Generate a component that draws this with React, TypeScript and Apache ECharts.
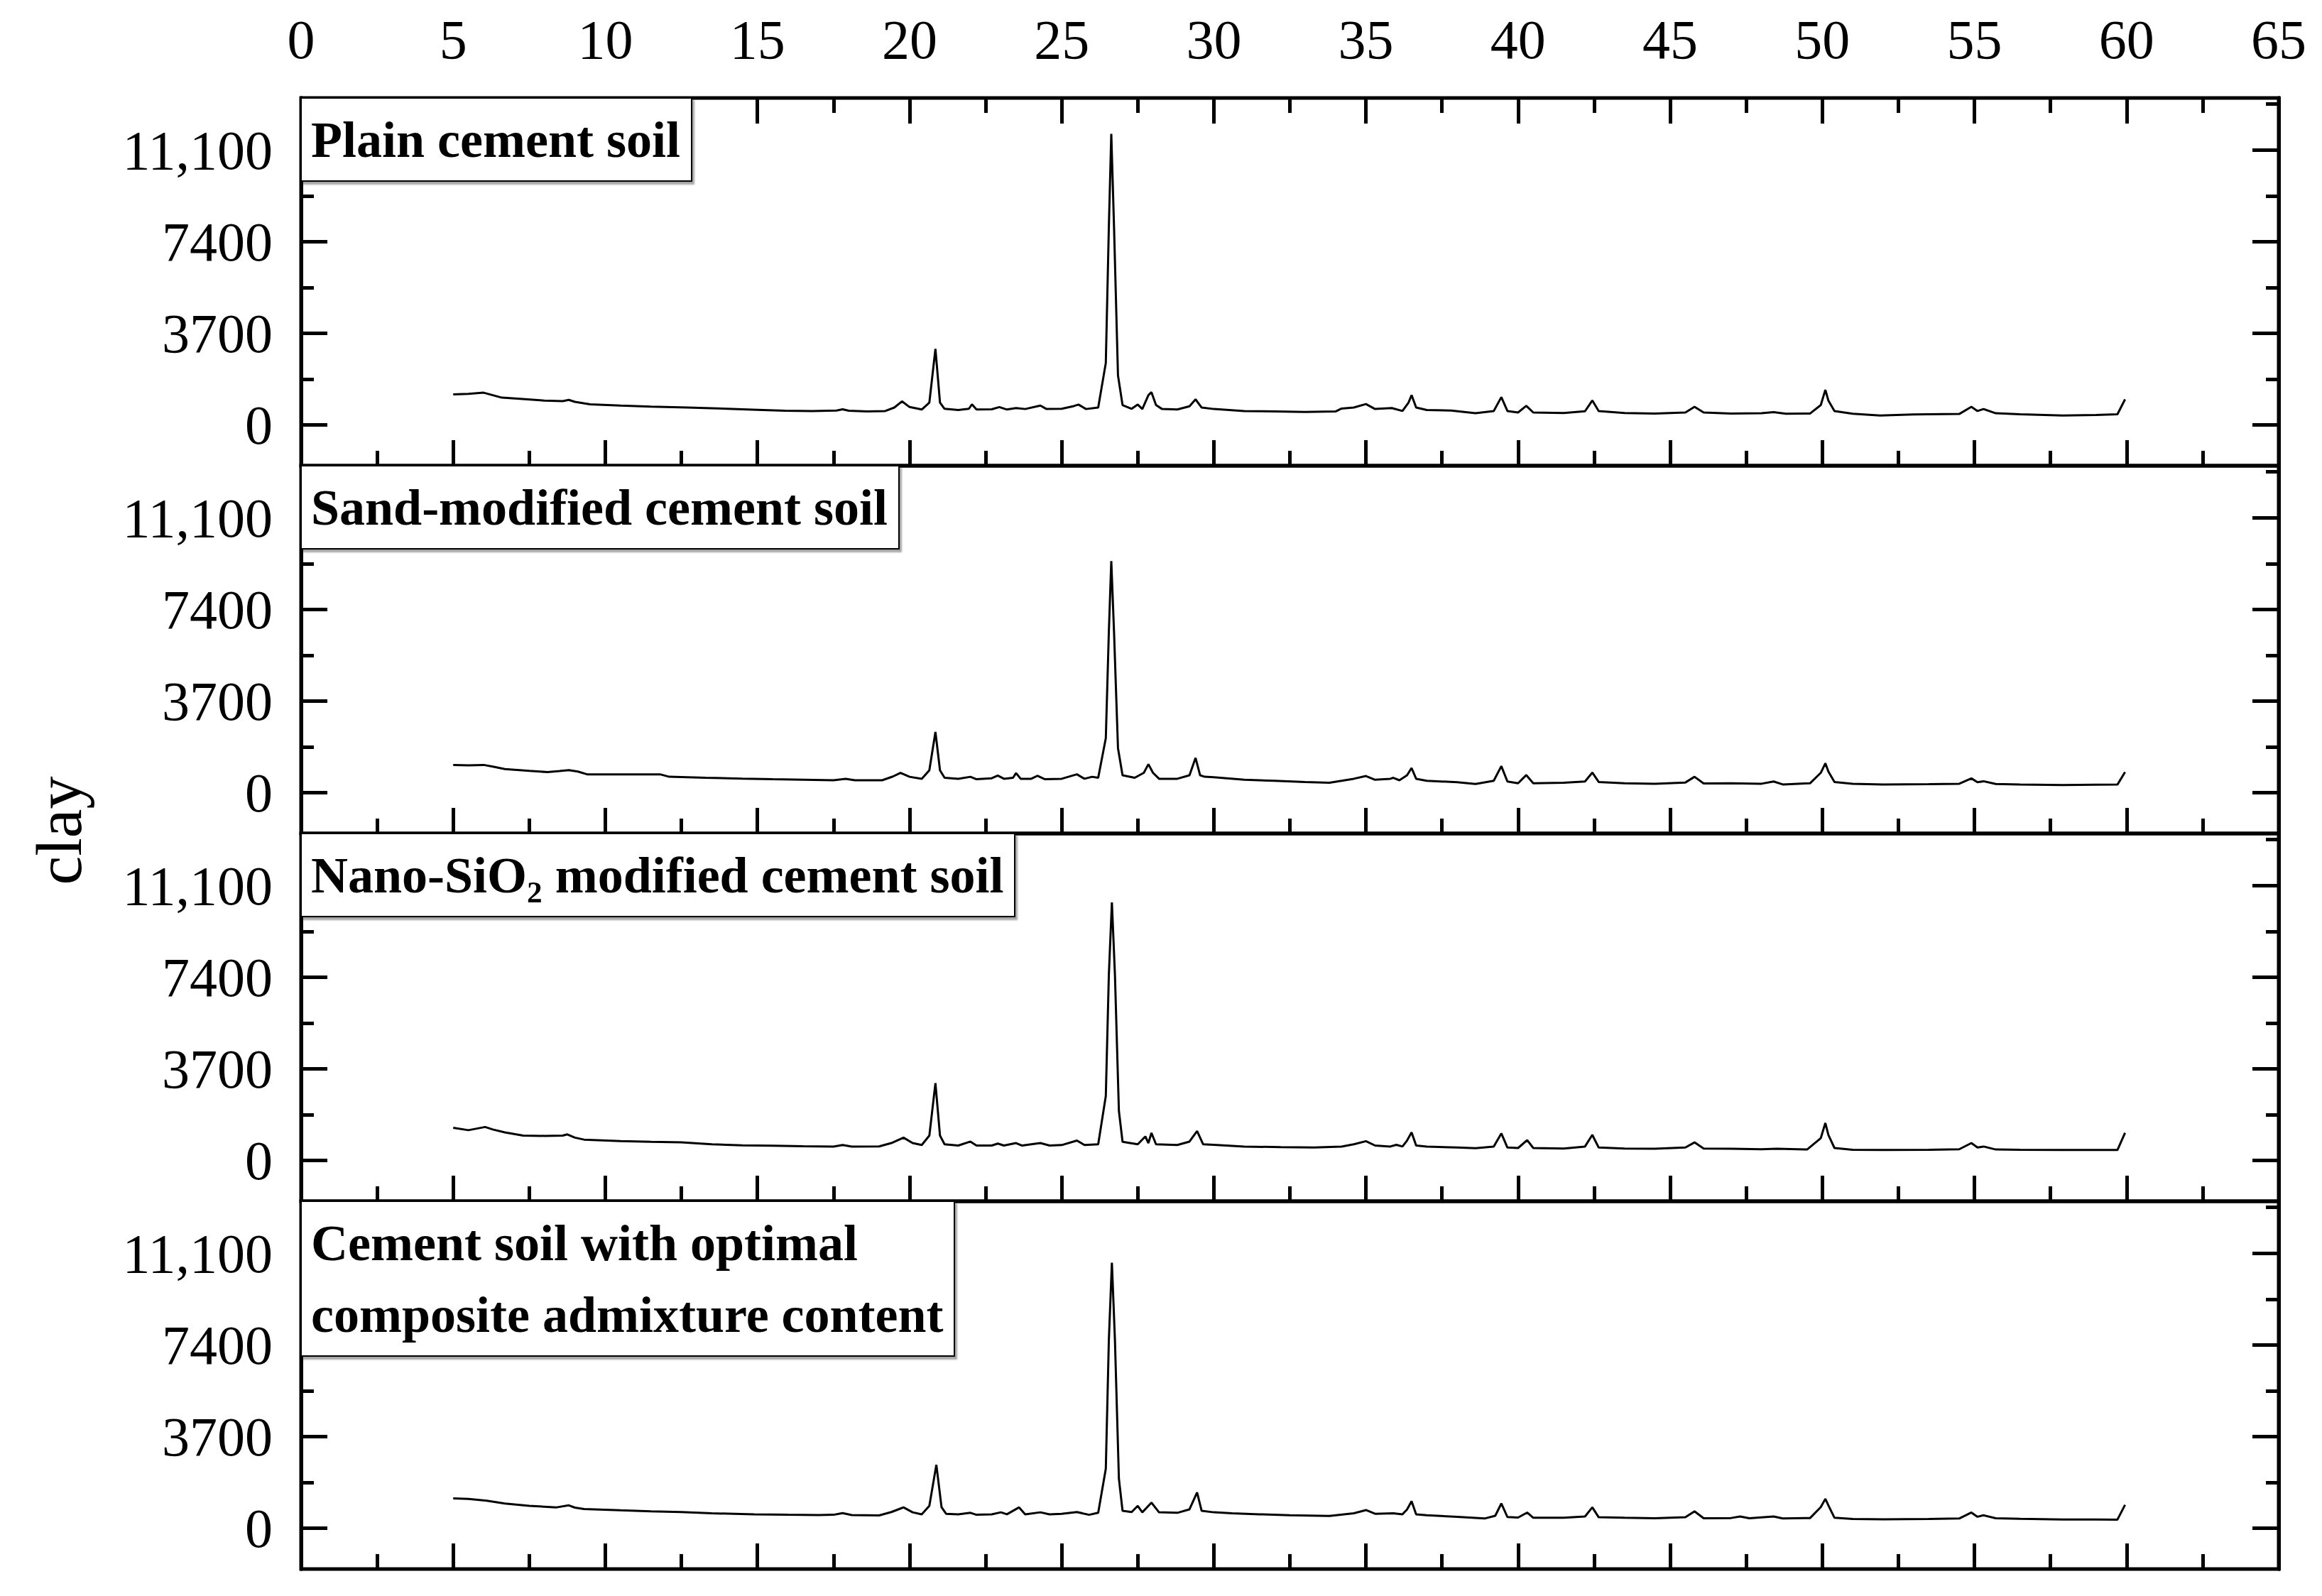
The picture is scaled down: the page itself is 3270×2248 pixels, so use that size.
import React, { useEffect, useRef } from "react";
import * as echarts from "echarts";

// ---------- data ----------
const panelNames = [
  "Plain cement soil",
  "Sand-modified cement soil",
  "Nano-SiO₂ modified cement soil",
  "Cement soil with optimal\ncomposite admixture content",
];
const yAxisName = "clay";
const xTickStep = 5;
const xMinValue = 0;
const xMaxValue = 65;
const yMinValue = -1650;
const yMaxValue = 13200;
const yMajorValues = [0, 3700, 7400, 11100];
const yMajorLabels = ["0", "3700", "7400", "11,100"];
const yMinorValues = [1850, 5550, 9250, 12950];

const plainSoil: [number, number][] = [
  [5.0,1230],[5.5,1250],[6.0,1300],[6.3,1200],[6.6,1100],[7.2,1050],[8.0,980],[8.6,960],[8.8,1010],[9.0,930],[9.5,830],[10.5,780],[11.5,740],[12.7,700],[14,650],[15,610],[15.9,575],[16.8,560],[17.6,580],[17.8,630],[18.0,570],[18.6,540],[19.2,560],[19.5,700],[19.75,950],[20.0,720],[20.4,620],[20.65,900],[20.85,3070],[21.0,900],[21.15,650],[21.6,600],[21.95,650],[22.05,830],[22.2,620],[22.7,630],[22.95,720],[23.2,620],[23.5,680],[23.8,640],[24.3,780],[24.5,640],[25.0,650],[25.4,760],[25.55,820],[25.8,640],[26.2,700],[26.45,2500],[26.55,8000],[26.63,11750],[26.72,8000],[26.85,2000],[27.0,800],[27.3,650],[27.5,820],[27.65,640],[27.85,1200],[27.95,1320],[28.1,800],[28.3,640],[28.8,620],[29.2,750],[29.4,1030],[29.6,700],[30.0,640],[31,560],[32,540],[33,520],[34.0,540],[34.2,660],[34.6,700],[35.0,840],[35.3,640],[35.85,680],[36.2,560],[36.4,900],[36.5,1200],[36.65,700],[37.0,600],[37.8,580],[38.6,470],[39.2,560],[39.45,1120],[39.65,560],[40.0,500],[40.27,770],[40.5,500],[41.5,480],[42.2,550],[42.44,985],[42.65,560],[43.5,480],[44.5,460],[45.5,500],[45.8,730],[46.1,500],[47,460],[48.0,470],[48.4,515],[48.8,450],[49.6,460],[49.95,800],[50.1,1415],[50.2,980],[50.4,560],[51,450],[51.9,380],[53,420],[54.5,440],[54.9,730],[55.1,560],[55.3,640],[55.7,470],[56.5,430],[57.9,380],[59.0,400],[59.7,430],[59.95,1030],
];
const sandModified: [number, number][] = [
  [5.0,1120],[5.5,1100],[6.0,1120],[6.3,1050],[6.7,950],[7.5,880],[8.1,830],[8.5,870],[8.8,910],[9.1,850],[9.4,740],[10.5,740],[11.8,740],[12.1,640],[13.3,600],[14.5,565],[15.5,540],[16.5,520],[17.5,500],[17.9,560],[18.2,500],[19.1,500],[19.45,650],[19.7,800],[20.0,640],[20.4,560],[20.65,900],[20.85,2450],[21.0,900],[21.15,600],[21.6,560],[22.0,640],[22.2,540],[22.7,580],[22.9,690],[23.1,560],[23.4,600],[23.5,790],[23.65,560],[24.0,560],[24.2,680],[24.45,540],[25.0,560],[25.5,740],[25.75,560],[26.0,640],[26.2,600],[26.45,2200],[26.55,6500],[26.63,9350],[26.72,6500],[26.85,1800],[27.0,700],[27.4,600],[27.7,800],[27.85,1150],[28.0,800],[28.2,560],[28.8,560],[29.2,700],[29.4,1400],[29.55,700],[29.7,640],[30.0,620],[31.0,520],[32.0,480],[33.0,430],[33.8,400],[34.6,560],[35.0,670],[35.3,520],[35.8,560],[35.9,600],[36.1,500],[36.35,700],[36.5,995],[36.65,560],[37.0,480],[38.0,420],[38.6,350],[39.2,480],[39.45,1070],[39.65,450],[40.0,380],[40.27,710],[40.5,380],[41.5,400],[42.2,450],[42.44,810],[42.65,430],[43.5,380],[44.5,360],[45.5,410],[45.8,640],[46.1,370],[47.0,380],[48.0,360],[48.4,450],[48.7,330],[49.6,380],[49.95,800],[50.1,1185],[50.2,850],[50.4,430],[51.0,360],[52.0,330],[53.5,340],[54.5,360],[54.9,575],[55.1,420],[55.3,460],[55.7,350],[56.5,330],[57.9,310],[59.0,320],[59.7,325],[59.95,830],
];
const nanoSiO2: [number, number][] = [
  [5.0,1320],[5.5,1220],[6.05,1350],[6.3,1250],[6.7,1130],[7.3,1000],[8.0,990],[8.6,1000],[8.75,1050],[9.0,920],[9.3,840],[10.5,780],[11.5,750],[12.5,726],[13.5,650],[14.5,610],[15.5,590],[16.5,570],[17.5,560],[17.8,620],[18.1,560],[19.0,564],[19.4,700],[19.8,920],[20.1,700],[20.4,620],[20.65,1000],[20.85,3120],[21.0,1000],[21.15,650],[21.6,600],[22.0,760],[22.2,600],[22.7,600],[22.9,680],[23.1,600],[23.5,700],[23.7,600],[24.3,700],[24.6,600],[25.0,620],[25.5,800],[25.75,620],[26.2,650],[26.45,2600],[26.55,7500],[26.65,10420],[26.75,7500],[26.88,2000],[27.0,750],[27.5,650],[27.75,966],[27.85,700],[27.95,1110],[28.1,650],[28.8,620],[29.2,760],[29.45,1185],[29.65,650],[30.0,630],[31.0,560],[32.2,535],[33.3,520],[34.2,560],[34.6,650],[35.0,775],[35.3,600],[35.8,560],[36.0,630],[36.2,560],[36.35,800],[36.5,1130],[36.65,600],[37.0,560],[38.0,520],[38.6,490],[39.2,560],[39.45,1090],[39.65,520],[40.0,500],[40.3,820],[40.5,500],[41.5,480],[42.2,560],[42.44,1030],[42.65,520],[43.5,480],[44.5,470],[45.5,520],[45.8,726],[46.1,480],[47.0,470],[48.0,450],[48.5,470],[49.5,440],[49.95,900],[50.1,1510],[50.2,1030],[50.4,500],[51.0,430],[52.0,420],[53.5,430],[54.5,450],[54.9,700],[55.1,520],[55.3,560],[55.7,440],[56.5,430],[57.9,420],[59.0,420],[59.7,420],[59.95,1110],
];
const optimalComposite: [number, number][] = [
  [5.0,1205],[5.5,1180],[6.1,1110],[6.7,995],[7.5,900],[8.4,840],[8.8,920],[9.0,830],[9.3,775],[10.5,720],[11.5,680],[12.5,650],[13.5,600],[14.9,555],[16.0,540],[17.0,530],[17.5,540],[17.8,610],[18.1,530],[19.0,516],[19.4,650],[19.8,840],[20.1,640],[20.4,560],[20.65,900],[20.88,2560],[21.05,850],[21.2,580],[21.6,560],[22.0,620],[22.2,540],[22.7,560],[23.0,640],[23.2,560],[23.6,840],[23.8,560],[24.3,640],[24.6,560],[25.0,580],[25.5,650],[25.9,540],[26.2,620],[26.45,2400],[26.55,7600],[26.65,10720],[26.75,7600],[26.88,2000],[27.0,700],[27.3,650],[27.5,900],[27.65,640],[27.95,1030],[28.2,640],[28.8,620],[29.2,760],[29.45,1440],[29.6,700],[30.0,640],[30.6,600],[31.5,560],[32.5,520],[33.8,490],[34.6,600],[35.0,730],[35.3,580],[35.9,600],[36.2,560],[36.35,750],[36.5,1090],[36.65,560],[37.0,520],[38.0,460],[38.9,390],[39.25,500],[39.45,995],[39.65,450],[40.0,430],[40.3,630],[40.5,420],[41.5,420],[42.2,470],[42.44,840],[42.65,440],[43.5,420],[44.5,400],[45.5,440],[45.8,680],[46.1,400],[47.0,410],[47.3,470],[47.6,400],[48.4,470],[48.7,390],[49.6,410],[49.95,850],[50.1,1185],[50.2,920],[50.4,420],[51.0,370],[52.0,360],[53.5,370],[54.5,390],[54.9,630],[55.1,460],[55.3,520],[55.7,400],[56.5,380],[57.9,350],[59.0,350],[59.7,345],[59.95,940],
];
const panelSeries = [plainSoil, sandModified, nanoSiO2, optimalComposite];

// ---------- layout ----------
const W = 3270;
const H = 2248;
const GRID_LEFT = 424;
const GRID_RIGHT = W - 3209;
const GRID_TOP0 = 138;
const PANEL_H = 518;
const FONT = "'Liberation Serif', 'Times New Roman', serif";

function buildOption() {
  const grids: any[] = [];
  const xAxes: any[] = [];
  const yAxes: any[] = [];
  const series: any[] = [];
  const titles: any[] = [];

  const tickLine = { color: "#000", width: 5 };
  const yFrameLine = { show: true, onZero: false, lineStyle: { color: "#000", width: 5 } };
  const hidden = {
    axisLine: { show: false, onZero: false },
    axisTick: { show: false },
    axisLabel: { show: false },
    splitLine: { show: false },
  };
  // index of dummy y axes that place the x axes at the bottom / top edge
  const bottomAnchor = (i: number) => 16 + i * 2;
  const topAnchor = (i: number) => 16 + i * 2 + 1;

  for (let i = 0; i < 4; i++) {
    const top = GRID_TOP0 + i * PANEL_H;
    grids.push({
      left: GRID_LEFT,
      right: GRID_RIGHT,
      top,
      height: PANEL_H,
      show: true,
      borderColor: "#000",
      borderWidth: 5,
      backgroundColor: "transparent",
    });
    xAxes.push({
      type: "value",
      gridIndex: i,
      position: "bottom",
      min: xMinValue,
      max: xMaxValue,
      interval: xTickStep,
      axisLine: { show: false, onZero: true, onZeroAxisIndex: bottomAnchor(i) },
      axisTick: { show: true, inside: true, length: 34, lineStyle: tickLine },
      minorTick: { show: true, splitNumber: 2, length: 19, lineStyle: tickLine },
      axisLabel: { show: false },
      splitLine: { show: false },
      minorSplitLine: { show: false },
    });
  }
  // top axis with labels on first panel
  xAxes.push({
    type: "value",
    gridIndex: 0,
    position: "top",
    min: xMinValue,
    max: xMaxValue,
    interval: xTickStep,
    axisLine: { show: false, onZero: true, onZeroAxisIndex: topAnchor(0) },
    axisTick: { show: true, inside: true, length: 34, lineStyle: tickLine },
    minorTick: { show: true, splitNumber: 2, length: 19, lineStyle: tickLine },
    axisLabel: {
      show: true,
      margin: 44,
      color: "#000",
      fontFamily: FONT,
      fontSize: 78,
      showMinLabel: true,
      showMaxLabel: true,
    },
    splitLine: { show: false },
  });

  for (let i = 0; i < 4; i++) {
    const base = {
      type: "value",
      gridIndex: i,
      min: yMinValue,
      max: yMaxValue,
      splitLine: { show: false },
    };
    yAxes.push({
      ...base,
      position: "left",
      axisLine: yFrameLine,
      axisTick: { show: true, inside: true, length: 37, lineStyle: tickLine, customValues: yMajorValues },
      axisLabel: {
        show: true,
        customValues: yMajorValues,
        margin: 40,
        color: "#000",
        fontFamily: FONT,
        fontSize: 78,
        formatter: (v: number) => {
          const k = yMajorValues.indexOf(v);
          return k >= 0 ? yMajorLabels[k] : "";
        },
      },
    });
    yAxes.push({
      ...base,
      position: "left",
      axisLine: yFrameLine,
      axisTick: { show: true, inside: true, length: 18, lineStyle: tickLine, customValues: yMinorValues },
      axisLabel: { show: false },
    });
    yAxes.push({
      ...base,
      position: "right",
      axisLine: yFrameLine,
      axisTick: { show: true, inside: true, length: 37, lineStyle: tickLine, customValues: yMajorValues },
      axisLabel: { show: false },
    });
    yAxes.push({
      ...base,
      position: "right",
      axisLine: yFrameLine,
      axisTick: { show: true, inside: true, length: 18, lineStyle: tickLine, customValues: yMinorValues },
      axisLabel: { show: false },
    });

    series.push({
      type: "line",
      name: panelNames[i],
      xAxisIndex: i,
      yAxisIndex: i * 4,
      data: panelSeries[i],
      symbol: "none",
      showSymbol: false,
      silent: true,
      lineStyle: { color: "#000", width: 3 },
      z: 3,
    });

    titles.push({
      text: panelNames[i],
      left: GRID_LEFT,
      top: GRID_TOP0 + i * PANEL_H,
      padding: [8, 16, 8, 14],
      backgroundColor: "#fff",
      borderColor: "#000",
      borderWidth: 2,
      shadowColor: "rgba(0,0,0,0.35)",
      shadowBlur: 2,
      shadowOffsetX: 3,
      shadowOffsetY: 4,
      z: 10,
      textStyle: {
        color: "#000",
        fontFamily: FONT,
        fontWeight: "bold",
        fontSize: 72,
        lineHeight: 101,
      },
    });
  }
  // dummy anchor axes (indices 16..23)
  for (let i = 0; i < 4; i++) {
    yAxes.push({ type: "value", gridIndex: i, position: "left", min: -0.004, max: 1, ...hidden });
    yAxes.push({ type: "value", gridIndex: i, position: "left", min: -1, max: 0.004, ...hidden });
  }

  return {
    animation: false,
    backgroundColor: "#fff",
    title: titles,
    grid: grids,
    xAxis: xAxes,
    yAxis: yAxes,
    series,
    graphic: [
      {
        type: "text",
        x: 83,
        y: 1170,
        rotation: Math.PI / 2,
        style: {
          text: yAxisName,
          fontFamily: FONT,
          fontSize: 92,
          fill: "#000",
          align: "center",
          verticalAlign: "middle",
        },
      },
    ],
  };
}

export default function App() {
  const ref = useRef<HTMLDivElement>(null);
  useEffect(() => {
    if (!ref.current) return;
    const chart = echarts.init(ref.current, undefined, { renderer: "svg" });
    chart.setOption(buildOption() as any);
    return () => chart.dispose();
  }, []);
  return (
    <div
      ref={ref}
      style={{ position: "fixed", left: 0, top: 0, width: W, height: H, background: "#fff" }}
    />
  );
}
